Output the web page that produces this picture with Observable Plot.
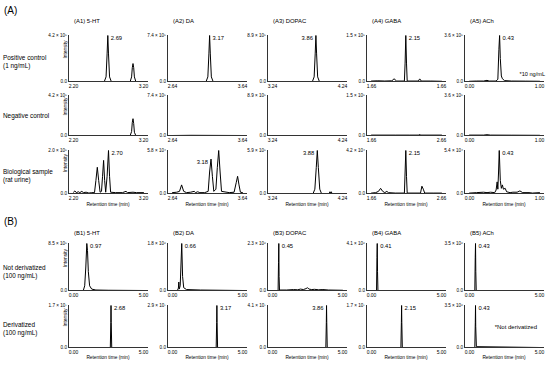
<!DOCTYPE html>
<html><head><meta charset="utf-8">
<script src="https://cdn.jsdelivr.net/npm/d3@7"></script>
<script src="https://cdn.jsdelivr.net/npm/@observablehq/plot@0.6"></script>
<style>
body{margin:0;background:#fff;}
#c{position:relative;width:550px;height:365px;overflow:hidden;font-family:"Liberation Sans",Arial,sans-serif;color:#000;background:#fff;}
.t{position:absolute;white-space:nowrap;line-height:1;}
.p{position:absolute;}
</style></head><body><div id="c"></div><script>
// ---------------- DATA ----------------
const analytes = ["5-HT","DA","DOPAC","GABA","ACh"];
const sectionLabels = ["(A)","(B)"];
const rowLabels = ["Positive control\n(1 ng/mL)","Negative control","Biological sample\n(rat urine)","Not derivatized\n(100 ng/mL)","Derivatized\n(100 ng/mL)"];
const xRangeA = [[2.20,3.20],[2.64,3.64],[3.24,4.24],[1.66,2.66],[0.00,1.00]];
const xRangeB = [0.00,5.00];
const xLabelsPositive = [["2.20","3.20"],["2.64","3.64"],["3.24","4.24"],["1.66","1.66"],["0.00","1.00"]];
const xLabelsNegative = [["2.20","3.20"],["2.64","3.64"],["3.24","4.24"],["1.66","2.66"],["0.00","1.00"]];
const xLabelsBio      = [["2.20","3.20"],["2.64","3.64"],["3.24","4.24"],["1.66","2.66"],["0.00","1.00"]];
const xLabelsB = ["0.00","5.00"];
const yMaxPositive = ["4.2 × 10⁵","7.4 × 10⁵","8.9 × 10⁵","1.5 × 10⁵","3.6 × 10⁵"];
const yMaxNegative = ["4.2 × 10⁵","7.4 × 10⁵","8.9 × 10⁵","1.5 × 10⁵","3.6 × 10⁵"];
const yMaxBio      = ["2.0 × 10⁵","5.8 × 10⁴","5.9 × 10⁵","4.2 × 10⁴","5.4 × 10⁴"];
const yMaxNotDer   = ["8.5 × 10⁵","1.8 × 10⁶","2.3 × 10⁶","4.1 × 10⁶","3.5 × 10⁶"];
const yMaxDer      = ["1.7 × 10⁷","2.9 × 10⁷","4.1 × 10⁷","1.7 × 10⁷","3.5 × 10⁶"];

// traces: [retention time (min), intensity as fraction of axis max]
const tracesPositive = [
  [[2.20,0],[2.64,0],[2.665,0.1],[2.68,0.6],[2.69,1],[2.70,0.6],[2.715,0.1],[2.74,0],[3.01,0],[3.03,0.1],[3.04,0.3],[3.05,0.39],[3.06,0.3],[3.07,0.1],[3.09,0],[3.20,0]],
  [[2.64,0],[3.12,0],[3.145,0.1],[3.16,0.6],[3.17,1],[3.18,0.6],[3.195,0.1],[3.22,0],[3.64,0]],
  [[3.24,0],[3.81,0],[3.835,0.1],[3.85,0.6],[3.86,1],[3.87,0.6],[3.885,0.1],[3.91,0],[4.24,0]],
  [[1.66,0.01],[1.75,0.015],[1.85,0.01],[1.95,0.015],[1.97,0.04],[1.985,0.06],[2.0,0.03],[2.02,0.01],[2.13,0.01],[2.14,0.4],[2.15,1],[2.16,0.4],[2.17,0.01],[2.33,0.01],[2.345,0.05],[2.355,0.05],[2.37,0.01],[2.5,0.01],[2.66,0.005]],
  [[0,0.005],[0.1,0.01],[0.2,0.01],[0.25,0.025],[0.28,0.01],[0.38,0.01],[0.405,0.05],[0.42,0.7],[0.43,1],[0.44,0.5],[0.455,0.12],[0.47,0.06],[0.5,0.02],[0.6,0.01],[0.8,0.008],[1.0,0.005]]
];
const tracesNegative = [
  [[2.20,0],[3.01,0],[3.03,0.1],[3.04,0.33],[3.05,0.42],[3.06,0.3],[3.07,0.08],[3.09,0],[3.20,0]],
  [[2.64,0],[2.9,0.005],[3.64,0]],
  [[3.24,0],[4.24,0]],
  [[1.66,0.01],[2.0,0.01],[2.2,0.01],[2.34,0.01],[2.35,0.03],[2.36,0.01],[2.66,0.01]],
  [[0,0.01],[0.2,0.01],[0.25,0.02],[0.3,0.01],[0.6,0.008],[1,0.005]]
];
const tracesBio = [
  [[2.20,0.03],[2.22,0.06],[2.24,0.02],[2.27,0.04],[2.29,0.02],[2.32,0.05],[2.34,0.02],[2.38,0.03],[2.42,0.01],[2.46,0.02],[2.50,0.02],[2.52,0.3],[2.54,0.61],[2.56,0.3],[2.58,0.03],[2.60,0.05],[2.615,0.4],[2.63,0.77],[2.645,0.3],[2.66,0.03],[2.68,0.4],[2.70,1.0],[2.715,0.4],[2.73,0.03],[2.8,0.02],[2.9,0.02],[2.95,0.05],[2.97,0.02],[3.05,0.03],[3.1,0.02],[3.20,0.02]],
  [[2.64,0.02],[2.7,0.03],[2.74,0.05],[2.77,0.2],[2.8,0.05],[2.84,0.02],[2.9,0.03],[2.95,0.05],[2.97,0.02],[3.0,0.04],[3.03,0.02],[3.1,0.02],[3.15,0.05],[3.17,0.5],[3.19,0.8],[3.21,0.4],[3.23,0.05],[3.26,0.1],[3.28,0.6],[3.30,1.0],[3.32,0.5],[3.34,0.05],[3.45,0.02],[3.52,0.03],[3.55,0.25],[3.57,0.4],[3.59,0.2],[3.61,0.03],[3.64,0.02]],
  [[3.24,0],[3.82,0],[3.845,0.1],[3.865,0.6],[3.88,1],[3.895,0.6],[3.915,0.1],[3.94,0],[4.05,0],[4.06,0.04],[4.07,0.01],[4.08,0.04],[4.09,0],[4.24,0]],
  [[1.66,0.01],[1.72,0.02],[1.76,0.05],[1.79,0.12],[1.82,0.05],[1.85,0.02],[1.88,0.05],[1.9,0.02],[2.0,0.01],[2.13,0.01],[2.14,0.5],[2.15,1.0],[2.16,0.4],[2.17,0.01],[2.36,0.01],[2.38,0.17],[2.40,0.1],[2.42,0.01],[2.55,0.01],[2.66,0.01]],
  [[0,0.01],[0.1,0.02],[0.2,0.03],[0.25,0.02],[0.3,0.03],[0.36,0.02],[0.38,0.08],[0.395,0.27],[0.405,0.1],[0.415,0.5],[0.425,1.0],[0.44,0.3],[0.455,0.12],[0.47,0.2],[0.485,0.1],[0.51,0.12],[0.53,0.04],[0.58,0.02],[0.62,0.03],[0.68,0.03],[0.72,0.06],[0.76,0.02],[0.85,0.02],[0.9,0.01],[1.0,0.02]]
];
const tracesNotDer = [
  [[0,0],[0.7,0],[0.8,0.1],[0.88,0.5],[0.95,1.0],[1.0,0.85],[1.06,0.4],[1.15,0.1],[1.3,0.03],[1.6,0.01],[2.5,0.005],[5,0]],
  [[0,0],[0.35,0],[0.42,0.05],[0.45,0.18],[0.48,0.03],[0.55,0.1],[0.6,0.5],[0.66,1.0],[0.72,0.3],[0.8,0.06],[1.0,0.02],[2,0.01],[5,0]],
  [[0,0],[0.4,0],[0.43,0.6],[0.45,1.0],[0.47,0.3],[0.5,0.01],[1.0,0.01],[1.5,0.02],[1.8,0.015],[2.0,0.03],[2.2,0.02],[2.4,0.04],[2.5,0.06],[2.6,0.03],[2.8,0.02],[3.0,0.025],[3.3,0.015],[3.6,0.02],[4.0,0.01],[5,0.005]],
  [[0,0],[0.36,0],[0.39,0.7],[0.41,1.0],[0.43,0.4],[0.46,0],[5,0]],
  [[0,0],[0.38,0],[0.41,0.7],[0.43,1.0],[0.45,0.4],[0.48,0],[5,0]]
];
const tracesDer = [
  [[0,0],[2.63,0],[2.665,0.6],[2.68,1],[2.695,0.6],[2.73,0],[5,0]],
  [[0,0],[3.12,0],[3.155,0.6],[3.17,1],[3.185,0.6],[3.22,0],[5,0]],
  [[0,0],[3.81,0],[3.845,0.6],[3.86,1],[3.875,0.6],[3.91,0],[5,0]],
  [[0,0],[2.10,0],[2.135,0.6],[2.15,1],[2.165,0.6],[2.20,0],[5,0]],
  [[0,0],[0.38,0],[0.415,0.6],[0.43,1],[0.445,0.5],[0.49,0.02],[5,0]]
];
// peak labels: [time, height, text, side]
const peaksPositive = [[[2.69,1,"2.69","r"]],[[3.17,1,"3.17","r"]],[[3.86,1,"3.86","l"]],[[2.15,1,"2.15","r"]],[[0.43,1,"0.43","r"]]];
const peaksNegative = [[],[],[],[],[]];
const peaksBio = [[[2.70,1,"2.70","r"]],[[3.19,0.8,"3.18","l"]],[[3.88,1,"3.88","l"]],[[2.15,1,"2.15","r"]],[[0.425,1,"0.43","r"]]];
const peaksNotDer = [[[0.97,1,"0.97","r"]],[[0.66,1,"0.66","r"]],[[0.45,1,"0.45","r"]],[[0.41,1,"0.41","r"]],[[0.43,1,"0.43","r"]]];
const peaksDer = [[[2.68,1,"2.68","r"]],[[3.17,1,"3.17","r"]],[[3.86,1,"3.86","l"]],[[2.15,1,"2.15","r"]],[[0.43,1,"0.43","r"]]];
const notes = ["*10 ng/mL","*Not derivatized"];

// ---------------- LAYOUT ----------------
const FONT = '"Liberation Sans", Arial, sans-serif';
const colLeft = [68,167,267,366,464];
const AXW = 80, INSET = 5;
const rowBox = [[35,81],[95,135],[150,193],[243,290],[305,347]];
const ML = 45, MR = 3, MT = 3, MB = 10;
const c = document.getElementById("c");

function addText(x, y, txt, size, anchor = "start") {
  const d = document.createElement("div");
  d.className = "t";
  d.style.left = x + "px"; d.style.top = y + "px";
  d.style.fontSize = size + "px";
  const tx = anchor === "middle" ? "-50%" : anchor === "end" ? "-100%" : "0";
  d.style.transform = `translate(${tx},-50%)`;
  if (txt.includes("\n")) { d.style.whiteSpace = "pre"; d.style.lineHeight = (size * 1.25) + "px"; }
  d.textContent = txt;
  c.appendChild(d);
}

function panel(row, col, trace, xr, xLabels, yLabel, peaks) {
  const [top, base] = rowBox[row];
  const h = base - top;
  const fmtX = d => (d === xr[0] ? xLabels[0] : xLabels[1]);
  const marks = [
    Plot.line(trace, {x: d => d[0], y: d => d[1], stroke: "#000", strokeWidth: 1}),
    Plot.ruleY([0], {stroke: "#333", strokeWidth: 1}),
    Plot.ruleX([xr[0]], {dx: -INSET, stroke: "#333", strokeWidth: 1}),
    Plot.axisX({ticks: xr, tickFormat: fmtX, tickSize: 0, tickPadding: 2.5, fontSize: 5, fill: "#000", label: null}),
    Plot.axisY({ticks: [0, 1], tickFormat: d => (d === 0 ? "0.0" : yLabel), tickSize: 0, tickPadding: 1.5, fontSize: 4.6, fill: "#000", label: null}),
    Plot.text(peaks.filter(p => p[3] === "r"), {x: d => d[0], y: d => d[1], text: d => d[2], textAnchor: "start", dx: 3, dy: 3, fontSize: 5.8, fill: "#000"}),
    Plot.text(peaks.filter(p => p[3] === "l"), {x: d => d[0], y: d => d[1], text: d => d[2], textAnchor: "end", dx: -3, dy: 3, fontSize: 5.8, fill: "#000"})
  ];
  if (col === 0) marks.push(Plot.text(["Intensity"], {frameAnchor: "left", text: d => d, rotate: -90, dx: -3.5, fontSize: 4.8, fill: "#000"}));
  const svg = Plot.plot({
    width: ML + AXW + MR, height: MT + h + MB,
    marginLeft: ML, marginRight: MR, marginTop: MT, marginBottom: MB,
    x: {domain: xr, insetLeft: INSET, insetRight: INSET},
    y: {domain: [0, 1]},
    style: {background: "transparent", overflow: "visible", fontFamily: FONT},
    marks
  });
  const wrap = document.createElement("div");
  wrap.className = "p";
  wrap.style.left = (colLeft[col] - ML) + "px";
  wrap.style.top = (top - MT) + "px";
  wrap.appendChild(svg);
  c.appendChild(wrap);
}

const rowsData = [
  [tracesPositive, xLabelsPositive, yMaxPositive, peaksPositive, "A"],
  [tracesNegative, xLabelsNegative, yMaxNegative, peaksNegative, "A"],
  [tracesBio, xLabelsBio, yMaxBio, peaksBio, "A"],
  [tracesNotDer, null, yMaxNotDer, peaksNotDer, "B"],
  [tracesDer, null, yMaxDer, peaksDer, "B"]
];
rowsData.forEach(([traces, xl, ym, pk, sec], r) => {
  for (let i = 0; i < 5; i++) {
    const xr = sec === "A" ? xRangeA[i] : xRangeB;
    const labels = sec === "A" ? xl[i] : xLabelsB;
    panel(r, i, traces[i], xr, labels, ym[i], pk[i]);
  }
});

// text
addText(4, 11, sectionLabels[0], 10);
addText(4, 222, sectionLabels[1], 10);
analytes.forEach((a, i) => {
  addText(colLeft[i] + 6, 22, `(A${i + 1}) ${a}`, 5.9);
  addText(colLeft[i] + 6, 234, `(B${i + 1}) ${a}`, 5.9);
  addText(colLeft[i] + AXW / 2, 205, "Retention time (min)", 4.8, "middle");
  addText(colLeft[i] + AXW / 2, 358, "Retention time (min)", 4.8, "middle");
});
const rowLabelY = [62, 116, 176, 272, 328.5];
rowLabels.forEach((t, r) => addText(3, rowLabelY[r], t, 6.4));
addText(545, 75, notes[0], 5.6, "end");
addText(537, 327, notes[1], 6, "end");
</script></body></html>
